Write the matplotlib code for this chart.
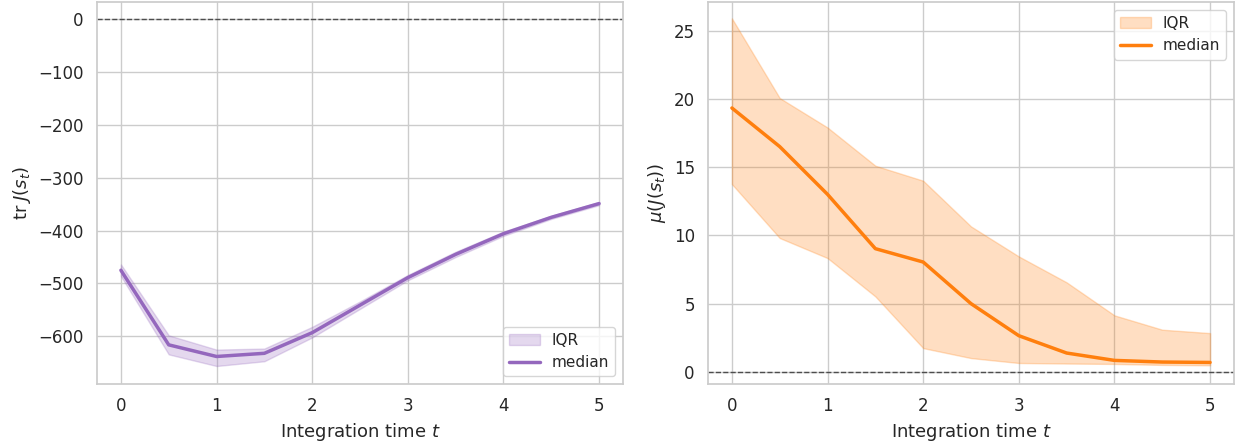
import matplotlib
matplotlib.use("Agg")
import matplotlib.pyplot as plt
import seaborn as sns
import numpy as np

sns.set_theme(style="whitegrid", context="notebook")

t = [0, 0.5, 1, 1.5, 2, 2.5, 3, 3.5, 4, 4.5, 5]

tr_median = [-475, -616, -638, -632, -593, -541, -489, -445, -406, -375, -349]
tr_q25 = [-486, -634, -656, -647, -602, -548, -494, -450, -410, -378, -352]
tr_q75 = [-464, -598, -625, -623, -582, -534, -484, -440, -402, -372, -346]

mu_median = [19.33, 16.5, 13.0, 9.02, 8.04, 4.99, 2.64, 1.37, 0.83, 0.71, 0.68]
mu_q25 = [13.75, 9.8, 8.33, 5.52, 1.73, 1.0, 0.64, 0.6, 0.57, 0.5, 0.47]
mu_q75 = [25.9, 20.06, 17.9, 15.1, 14.0, 10.65, 8.45, 6.55, 4.13, 3.08, 2.83]

purple = "#9467bd"
orange = "#ff7f0e"

fig = plt.figure(figsize=(12.35, 4.47), dpi=100)
ax1 = fig.add_axes([97/1235, 1-384/447, (623-97)/1235, 382/447])
ax2 = fig.add_axes([708/1235, 1-384/447, (1234-708)/1235, 382/447])

for ax, med, lo, hi, col, ylab in [
    (ax1, tr_median, tr_q25, tr_q75, purple, r"$\mathrm{tr}\;J(s_t)$"),
    (ax2, mu_median, mu_q25, mu_q75, orange, r"$\mu(J(s_t))$"),
]:
    ax.fill_between(t, lo, hi, color=col, alpha=0.25, label="IQR")
    ax.plot(t, med, color=col, lw=2.5, label="median")
    ax.axhline(0, color="0.3", ls="--", lw=1)
    ax.set_xlabel(r"Integration time $t$", fontsize=13)
    ax.set_ylabel(ylab, fontsize=13)
    ax.set_xlim(-0.25, 5.25)
    ax.tick_params(labelsize=12)

ax1.set_ylim(-690, 32)
ax1.set_yticks([0, -100, -200, -300, -400, -500, -600])
ax2.set_ylim(-0.9, 27.1)
ax2.set_yticks([0, 5, 10, 15, 20, 25])

ax1.legend(loc="lower right", fontsize=11)
ax2.legend(loc="upper right", fontsize=11)

fig.savefig("out.png", dpi=100)
